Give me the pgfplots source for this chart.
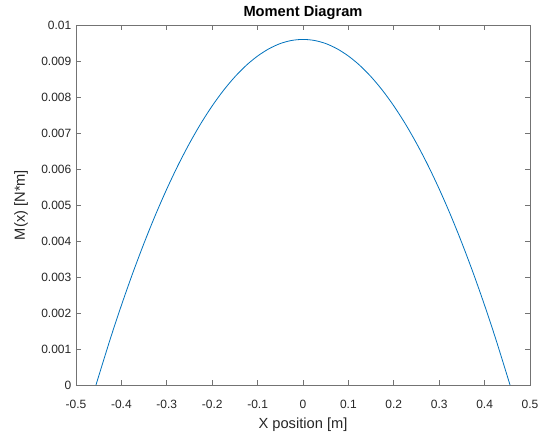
\documentclass[border=0pt]{standalone}
\usepackage{fontspec}
\setmainfont{Liberation Sans}
\usepackage{pgfplots}
\pgfplotsset{compat=1.18}
\definecolor{mblue}{rgb}{0,0.447,0.741}
\definecolor{mgray}{rgb}{0.15,0.15,0.15}
\definecolor{agray}{rgb}{0.45,0.45,0.45}
\begin{document}
\begin{tikzpicture}
\useasboundingbox (-57pt,-36pt) rectangle (347.25pt,288.75pt);
\begin{axis}[
  at={(0,0)}, anchor=south west,
  scale only axis, width=340.5pt, height=270pt,
  xmin=-0.5, xmax=0.5, ymin=0, ymax=0.01,
  xtick={-0.5,-0.4,-0.3,-0.2,-0.1,0,0.1,0.2,0.3,0.4,0.5},
  xticklabels={-0.5,-0.4,-0.3,-0.2,-0.1,0,0.1,0.2,0.3,0.4,0.5},
  ytick={0,0.001,0.002,0.003,0.004,0.005,0.006,0.007,0.008,0.009,0.01},
  yticklabels={0,0.001,0.002,0.003,0.004,0.005,0.006,0.007,0.008,0.009,0.01},
  scaled ticks=false,
  tick align=inside, major tick length=4pt,
  axis line style={agray, line width=0.6pt},
  tick style={agray, line width=0.6pt},
  ticklabel style={font=\fontsize{9}{10}\selectfont, text=mgray},
  every x tick label/.append style={yshift=-7.5pt},
  /pgf/number format/assume math mode=true,
  xlabel={X position [m]}, ylabel={M(x) [N*m]},
  label style={font=\fontsize{11}{13}\selectfont, text=mgray},
  title={Moment Diagram},
  every axis title shift=0pt,
  title style={font=\bfseries\fontsize{11}{13}\selectfont, at={(axis description cs:0.5,1.035)}, anchor=center},
  xlabel style={at={(axis description cs:0.5,-0.11)}, anchor=center},
  ylabel style={at={(axis description cs:-0.121,0.5)}, anchor=center},
]
\addplot[mblue, line width=0.6pt, smooth] coordinates {
(-0.456,0) (-0.425,0.001261) (-0.4,0.002213) (-0.375,0.003108) (-0.35,0.003944)
(-0.325,0.004724) (-0.3,0.005445) (-0.275,0.006109) (-0.25,0.006714)
(-0.225,0.007263) (-0.2,0.007753) (-0.175,0.008186) (-0.15,0.008561)
(-0.125,0.008879) (-0.1,0.009138) (-0.075,0.009340) (-0.05,0.009485)
(-0.025,0.009571) (0,0.0096) (0.025,0.009571) (0.05,0.009485)
(0.075,0.009340) (0.1,0.009138) (0.125,0.008879) (0.15,0.008561)
(0.175,0.008186) (0.2,0.007753) (0.225,0.007263) (0.25,0.006714)
(0.275,0.006109) (0.3,0.005445) (0.325,0.004724) (0.35,0.003944)
(0.375,0.003108) (0.4,0.002213) (0.425,0.001261) (0.456,0)
};
\end{axis}
\end{tikzpicture}
\end{document}
